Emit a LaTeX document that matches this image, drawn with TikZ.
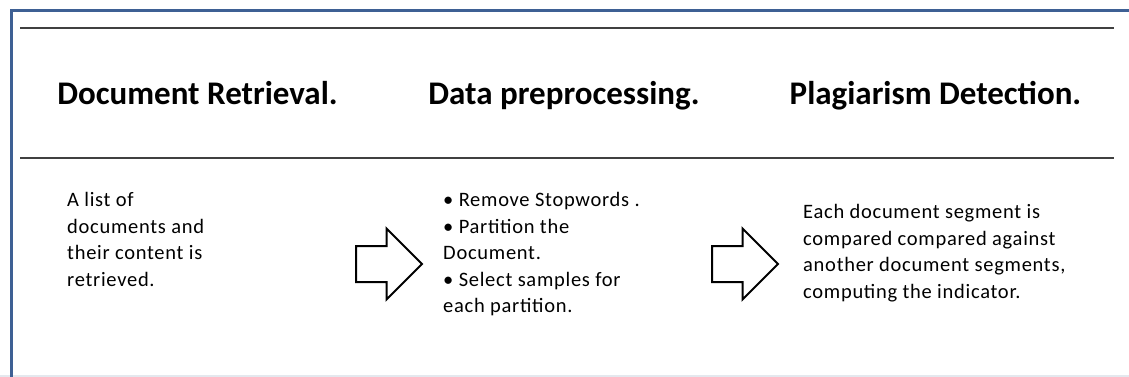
\documentclass[tikz,border=0pt]{standalone}
\usepackage{fontspec}
\setmainfont{Carlito}
\newfontfamily\bodyfont[LetterSpace=3.5]{Carlito}
\usetikzlibrary{shapes.arrows,positioning}
\definecolor{frameblue}{RGB}{62,96,148}
\definecolor{rulegray}{RGB}{64,64,64}
\definecolor{edgegray}{RGB}{228,232,238}

\begin{document}
\begin{tikzpicture}[x=1pt, y=-1pt,
    head/.style={anchor=base, inner sep=0pt, font=\fontsize{33}{40}\selectfont\bfseries},
    body/.style={anchor=north west, inner sep=0pt, align=left, font=\bodyfont\fontsize{20.5}{26.5}\selectfont},
    blockarr/.style={draw, single arrow, line width=2pt, minimum height=66pt, single arrow head extend=17.5pt, single arrow head indent=0pt, inner xsep=0pt, inner ysep=17pt, outer sep=0pt, anchor=tip},
    rule/.style={draw=rulegray, line width=2.2pt}
]
\useasboundingbox (0,0) rectangle (1129,377);
\draw[edgegray, line width=1.5pt] (0,376) -- (1129,376);
\draw[frameblue, line width=3pt] (11,377) -- (11,11) -- (1129,11);
\draw[rule] (20,28) -- (1114,28);
\draw[rule] (20,158) -- (1114,158);

\node[head] (h1) at (197.5,105) {Document Retrieval.};
\node[head] (h2) at (564,105) {Data preprocessing.};
\node[head] (h3) at (935.5,105) {Plagiarism Detection.};

\node[body] (t1) at (67,192.5) {A list of\\documents and\\their content is\\retrieved.};
\node[body] (t2) at (443,192.5) {• Remove Stopwords .\\• Partition the\\Document.\\• Select samples for\\each partition.};
\node[body] (t3) at (803,204.5) {Each document segment is\\compared compared against\\another document segments,\\computing the indicator.};

\node[blockarr] (a1) at (422,264) {};
\node[blockarr] (a2) at (778,264) {};
\end{tikzpicture}
\end{document}
